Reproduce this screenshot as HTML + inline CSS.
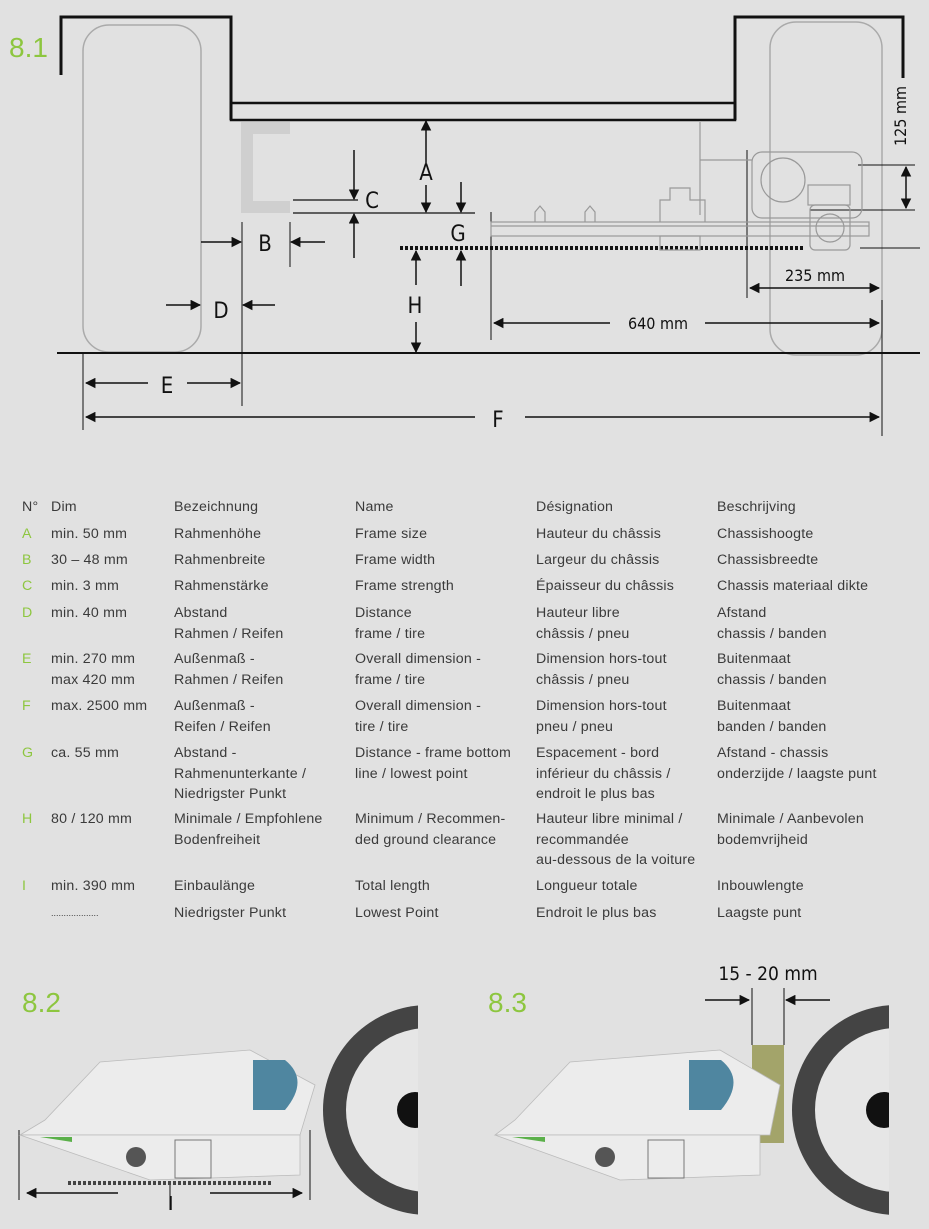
<!DOCTYPE html>
<html><head><meta charset="utf-8"><style>
html,body{margin:0;padding:0;background:#e1e1e1;}
body{width:929px;height:1229px;position:relative;overflow:hidden;font-family:"Liberation Sans",sans-serif;}
svg{position:absolute;left:0;top:0;}
.t{position:absolute;font-size:14.2px;color:#3a3a3a;line-height:20.5px;white-space:nowrap;letter-spacing:0.2px;}
.g{color:#8dc63f;}
</style></head><body>
<svg width="929" height="1229" viewBox="0 0 929 1229">
<defs>
<marker id="ah" viewBox="0 0 10 10" refX="9" refY="5" markerWidth="7" markerHeight="7" orient="auto-start-reverse"><path d="M0,0 L10,5 L0,10 z" fill="#111"/></marker>
</defs>
<g font-family="Liberation Sans, sans-serif">
<text x="9" y="57" font-size="28" fill="#8dc63f">8.1</text>
<path d="M61,75 V17 H231 V120" fill="none" stroke="#111" stroke-width="3"/>
<path d="M903,78 V17 H735 V120" fill="none" stroke="#111" stroke-width="3"/>
<rect x="231" y="103" width="504" height="17" fill="none" stroke="#111" stroke-width="2.5"/>
<rect x="83" y="25" width="118" height="327" rx="26" fill="none" stroke="#aaa" stroke-width="1.5"/>
<rect x="770" y="22" width="112" height="333" rx="26" fill="none" stroke="#aaa" stroke-width="1.5"/>
<line x1="57" y1="353" x2="920" y2="353" stroke="#111" stroke-width="2"/>
<path d="M290,128 H247 V207 H290" fill="none" stroke="#cfcfcf" stroke-width="12"/>
<line x1="293" y1="200" x2="358" y2="200" stroke="#111" stroke-width="1.2"/>
<line x1="293" y1="213" x2="475" y2="213" stroke="#111" stroke-width="1.2"/>
<g stroke="#111" stroke-width="1.5" fill="none" marker-end="url(#ah)">
<line x1="354" y1="150" x2="354" y2="199"/>
<line x1="354" y1="258" x2="354" y2="214"/>
<line x1="426" y1="165" x2="426" y2="121"/>
<line x1="426" y1="185" x2="426" y2="212"/>
<line x1="461" y1="182" x2="461" y2="212"/>
<line x1="461" y1="286" x2="461" y2="251"/>
<line x1="416" y1="285" x2="416" y2="251"/>
<line x1="416" y1="322" x2="416" y2="352"/>
<line x1="201" y1="242" x2="241" y2="242"/>
<line x1="325" y1="242" x2="291" y2="242"/>
<line x1="166" y1="305" x2="200" y2="305"/>
<line x1="275" y1="305" x2="243" y2="305"/>
<line x1="148" y1="383" x2="86" y2="383"/>
<line x1="187" y1="383" x2="240" y2="383"/>
<line x1="475" y1="417" x2="86" y2="417"/>
<line x1="525" y1="417" x2="879" y2="417"/>
<line x1="610" y1="323" x2="494" y2="323"/>
<line x1="705" y1="323" x2="879" y2="323"/>
<line x1="815" y1="288" x2="750" y2="288"/>
<line x1="815" y1="288" x2="879" y2="288"/>
<line x1="906" y1="188" x2="906" y2="167"/>
<line x1="906" y1="188" x2="906" y2="208"/>
</g>
<g stroke="#111" stroke-width="1">
<line x1="242" y1="222" x2="242" y2="406"/>
<line x1="290" y1="222" x2="290" y2="267"/>
<line x1="83" y1="352" x2="83" y2="430"/>
<line x1="882" y1="300" x2="882" y2="436"/>
<line x1="491" y1="212" x2="491" y2="340"/>
<line x1="747" y1="150" x2="747" y2="298"/>
<line x1="858" y1="165" x2="915" y2="165"/>
<line x1="810" y1="210" x2="915" y2="210"/>
<line x1="860" y1="248" x2="920" y2="248"/>
</g>
<line x1="400" y1="248" x2="805" y2="248" stroke="#111" stroke-width="4" stroke-dasharray="3,2"/>
<g fill="none" stroke="#999" stroke-width="1.2">
<rect x="491" y="222" width="378" height="14"/>
<line x1="491" y1="226" x2="869" y2="226"/>
<path d="M700,122 V215 M700,160 H752"/>
<rect x="752" y="152" width="110" height="66" rx="10"/>
<circle cx="783" cy="180" r="22"/>
<rect x="808" y="185" width="42" height="20"/>
<rect x="810" y="205" width="40" height="45" rx="5"/>
<circle cx="830" cy="228" r="14"/>
<path d="M660,222 V200 H670 V188 H690 V200 H705 V222"/>
<path d="M535,222 V212 L540,206 L545,212 V222 M585,222 V212 L590,206 L595,212 V222"/>
<rect x="660" y="236" width="40" height="14"/>
</g>
<g font-size="22" fill="#111" text-anchor="middle" font-family="DejaVu Sans Condensed, Liberation Sans Narrow, sans-serif">
<text x="426" y="180">A</text>
<text x="372" y="208">C</text>
<text x="458" y="241">G</text>
<text x="265" y="251">B</text>
<text x="221" y="318">D</text>
<text x="415" y="313">H</text>
<text x="167" y="393">E</text>
<text x="498" y="427">F</text>
</g>
<g font-size="16" fill="#111" text-anchor="middle" font-family="DejaVu Sans Condensed, sans-serif">
<text x="658" y="329">640 mm</text>
<text x="815" y="281">235 mm</text>
<text x="906" y="116" transform="rotate(-90 906 116)">125 mm</text>
</g>
<text x="22" y="1012" font-size="28" fill="#8dc63f">8.2</text>
<text x="488" y="1012" font-size="28" fill="#8dc63f">8.3</text>
<text x="768" y="980" font-size="19" fill="#111" text-anchor="middle" font-family="DejaVu Sans Condensed, sans-serif">15 - 20 mm</text>
<g stroke="#111" stroke-width="1.5" marker-end="url(#ah)">
<line x1="705" y1="1000" x2="749" y2="1000"/>
<line x1="830" y1="1000" x2="786" y2="1000"/>
<line x1="118" y1="1193" x2="27" y2="1193"/>
<line x1="210" y1="1193" x2="302" y2="1193"/>
</g>
<g stroke="#111" stroke-width="1">
<line x1="752" y1="988" x2="752" y2="1045"/>
<line x1="784" y1="988" x2="784" y2="1045"/>
<line x1="19" y1="1130" x2="19" y2="1200"/>
<line x1="310" y1="1130" x2="310" y2="1200"/>
<line x1="170" y1="1185" x2="170" y2="1210"/>
</g>
<line x1="68" y1="1183" x2="272" y2="1183" stroke="#444" stroke-width="4" stroke-dasharray="3,2"/>
<rect x="752" y="1045" width="32" height="98" fill="#a3a46a"/>
<defs>
<clipPath id="c1"><rect x="300" y="990" width="118" height="230"/></clipPath>
<clipPath id="c2"><rect x="770" y="990" width="119" height="230"/></clipPath>
</defs>
<g clip-path="url(#c1)">
<circle cx="428" cy="1110" r="105" fill="#444"/>
<circle cx="428" cy="1110" r="82" fill="#e6e6e6"/>
<circle cx="415" cy="1110" r="18" fill="#111"/>
</g>
<g clip-path="url(#c2)">
<circle cx="897" cy="1110" r="105" fill="#444"/>
<circle cx="897" cy="1110" r="82" fill="#e6e6e6"/>
<circle cx="884" cy="1110" r="18" fill="#111"/>
</g>
<g fill="#ececec" stroke="#bbb" stroke-width="0.8">
<path d="M20,1135 L300,1135 L315,1085 L250,1050 L100,1062 L45,1120 Z"/>
<path d="M20,1135 L300,1135 L300,1175 L150,1180 Z"/>
<path d="M495,1135 L770,1135 L780,1085 L720,1050 L570,1062 L515,1120 Z"/>
<path d="M495,1135 L760,1135 L760,1175 L620,1180 Z"/>
</g>
<path d="M253,1060 H285 Q310,1080 285,1110 H253 Z" fill="#4f86a0"/>
<path d="M689,1060 H721 Q746,1080 721,1110 H689 Z" fill="#4f86a0"/>
<circle cx="136" cy="1157" r="10" fill="#555"/>
<circle cx="605" cy="1157" r="10" fill="#555"/>
<rect x="175" y="1140" width="36" height="38" fill="none" stroke="#777"/>
<rect x="648" y="1140" width="36" height="38" fill="none" stroke="#777"/>
<path d="M40,1137 L72,1137 L72,1142 Z" fill="#5bb04a"/>
<path d="M512,1137 L545,1137 L545,1142 Z" fill="#5bb04a"/>
<text x="168" y="1210" font-size="20" fill="#111">I</text>
</g>
</svg>
<div class="t" style="left:22px;top:497px">N°</div>
<div class="t" style="left:51px;top:497px">Dim</div>
<div class="t" style="left:174px;top:497px">Bezeichnung</div>
<div class="t" style="left:355px;top:497px">Name</div>
<div class="t" style="left:536px;top:497px">Désignation</div>
<div class="t" style="left:717px;top:497px">Beschrijving</div>

<div class="t g" style="left:22px;top:524px">A</div><div class="t" style="left:51px;top:524px">min. 50 mm</div><div class="t" style="left:174px;top:524px">Rahmenhöhe</div><div class="t" style="left:355px;top:524px">Frame size</div><div class="t" style="left:536px;top:524px">Hauteur du châssis</div><div class="t" style="left:717px;top:524px">Chassishoogte</div>
<div class="t g" style="left:22px;top:550px">B</div><div class="t" style="left:51px;top:550px">30 – 48 mm</div><div class="t" style="left:174px;top:550px">Rahmenbreite</div><div class="t" style="left:355px;top:550px">Frame width</div><div class="t" style="left:536px;top:550px">Largeur du châssis</div><div class="t" style="left:717px;top:550px">Chassisbreedte</div>
<div class="t g" style="left:22px;top:576px">C</div><div class="t" style="left:51px;top:576px">min. 3 mm</div><div class="t" style="left:174px;top:576px">Rahmenstärke</div><div class="t" style="left:355px;top:576px">Frame strength</div><div class="t" style="left:536px;top:576px">Épaisseur du châssis</div><div class="t" style="left:717px;top:576px">Chassis materiaal dikte</div>
<div class="t g" style="left:22px;top:603px">D</div><div class="t" style="left:51px;top:603px">min. 40 mm</div><div class="t" style="left:174px;top:603px">Abstand<br>Rahmen / Reifen</div><div class="t" style="left:355px;top:603px">Distance<br>frame / tire</div><div class="t" style="left:536px;top:603px">Hauteur libre<br>châssis / pneu</div><div class="t" style="left:717px;top:603px">Afstand<br>chassis / banden</div>
<div class="t g" style="left:22px;top:649px">E</div><div class="t" style="left:51px;top:649px">min. 270 mm<br>max 420 mm</div><div class="t" style="left:174px;top:649px">Außenmaß -<br>Rahmen / Reifen</div><div class="t" style="left:355px;top:649px">Overall dimension -<br>frame / tire</div><div class="t" style="left:536px;top:649px">Dimension hors-tout<br>châssis / pneu</div><div class="t" style="left:717px;top:649px">Buitenmaat<br>chassis / banden</div>
<div class="t g" style="left:22px;top:696px">F</div><div class="t" style="left:51px;top:696px">max. 2500 mm</div><div class="t" style="left:174px;top:696px">Außenmaß -<br>Reifen / Reifen</div><div class="t" style="left:355px;top:696px">Overall dimension -<br>tire / tire</div><div class="t" style="left:536px;top:696px">Dimension hors-tout<br>pneu / pneu</div><div class="t" style="left:717px;top:696px">Buitenmaat<br>banden / banden</div>
<div class="t g" style="left:22px;top:743px">G</div><div class="t" style="left:51px;top:743px">ca. 55 mm</div><div class="t" style="left:174px;top:743px">Abstand -<br>Rahmenunterkante /<br>Niedrigster Punkt</div><div class="t" style="left:355px;top:743px">Distance - frame bottom<br>line / lowest point</div><div class="t" style="left:536px;top:743px">Espacement - bord<br>inférieur du châssis /<br>endroit le plus bas</div><div class="t" style="left:717px;top:743px">Afstand - chassis<br>onderzijde / laagste punt</div>
<div class="t g" style="left:22px;top:809px">H</div><div class="t" style="left:51px;top:809px">80 / 120 mm</div><div class="t" style="left:174px;top:809px">Minimale / Empfohlene<br>Bodenfreiheit</div><div class="t" style="left:355px;top:809px">Minimum / Recommen-<br>ded ground clearance</div><div class="t" style="left:536px;top:809px">Hauteur libre minimal /<br>recommandée<br>au-dessous de la voiture</div><div class="t" style="left:717px;top:809px">Minimale / Aanbevolen<br>bodemvrijheid</div>
<div class="t g" style="left:22px;top:876px">I</div><div class="t" style="left:51px;top:876px">min. 390 mm</div><div class="t" style="left:174px;top:876px">Einbaulänge</div><div class="t" style="left:355px;top:876px">Total length</div><div class="t" style="left:536px;top:876px">Longueur totale</div><div class="t" style="left:717px;top:876px">Inbouwlengte</div>
<div class="t" style="left:51px;top:903px;font-size:9px;letter-spacing:0">...................</div><div class="t" style="left:174px;top:903px">Niedrigster Punkt</div><div class="t" style="left:355px;top:903px">Lowest Point</div><div class="t" style="left:536px;top:903px">Endroit le plus bas</div><div class="t" style="left:717px;top:903px">Laagste punt</div>
</body></html>
